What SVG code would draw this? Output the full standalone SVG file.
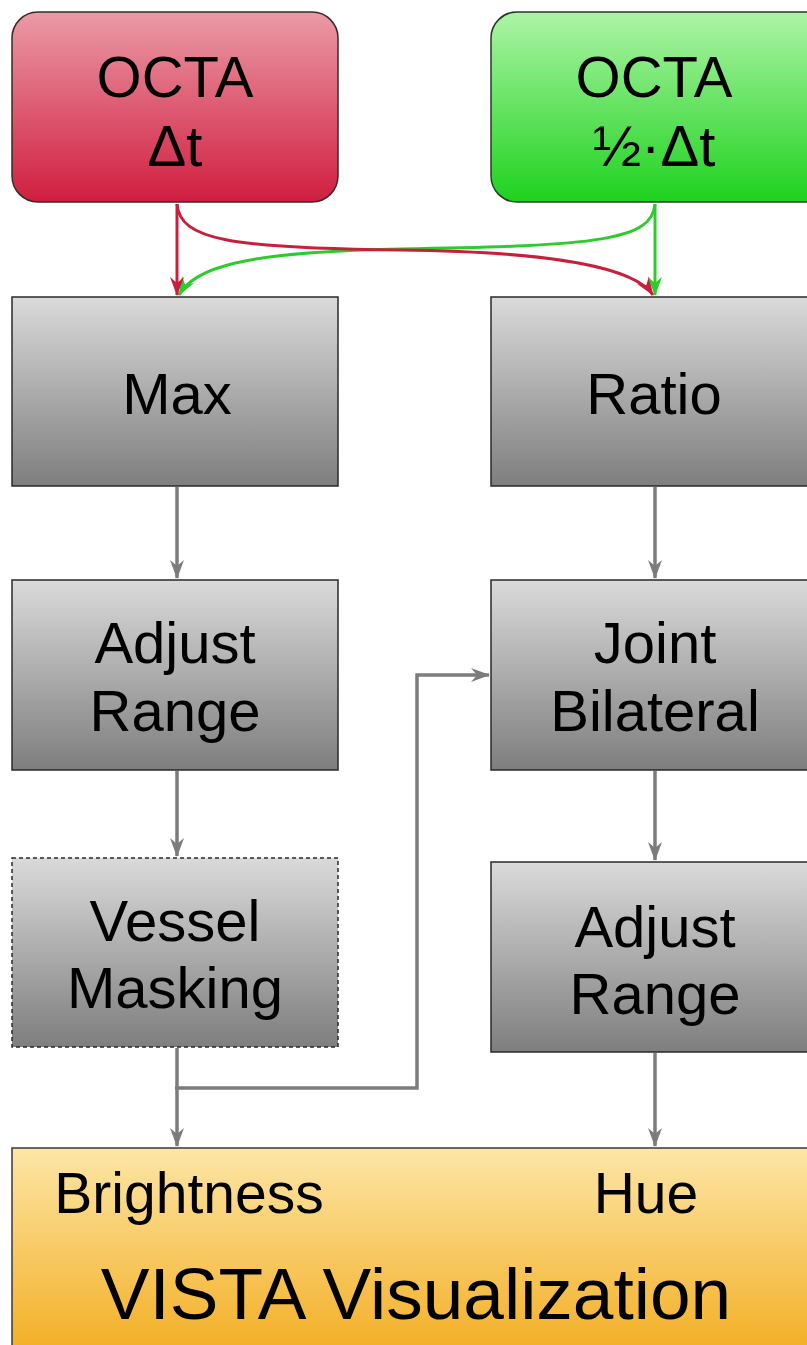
<svg xmlns="http://www.w3.org/2000/svg" width="807" height="1345" viewBox="0 0 807 1345">
<style>
text{font-family:"Liberation Sans",Arial,sans-serif;fill:#000;text-anchor:middle}
.lbl{font-size:58px}
.box{fill:url(#gGray);stroke:#2a2a2a;stroke-width:1.5}
.gc{fill:none;stroke:#7c7c7c;stroke-width:3.5}
</style>
<defs>
<linearGradient id="gGray" x1="0" y1="0" x2="0" y2="1"><stop offset="0" stop-color="#dadada"/><stop offset="1" stop-color="#7e7e7e"/></linearGradient>
<linearGradient id="gRed" x1="0" y1="0" x2="0" y2="1"><stop offset="0" stop-color="#eb9aa6"/><stop offset="1" stop-color="#d01e40"/></linearGradient>
<linearGradient id="gGreen" x1="0" y1="0" x2="0" y2="1"><stop offset="0" stop-color="#adf4a6"/><stop offset="1" stop-color="#1ed21e"/></linearGradient>
<linearGradient id="gOr" x1="0" y1="0" x2="0" y2="1"><stop offset="0" stop-color="#fde6a6"/><stop offset="1" stop-color="#f2aa1a"/></linearGradient>
<marker id="aG" markerWidth="20" markerHeight="16" refX="18" refY="8" orient="auto" markerUnits="userSpaceOnUse"><path d="M0,1 L19,8 L0,15 L6,8 Z" fill="#7c7c7c"/></marker>
<marker id="aR" markerWidth="20" markerHeight="16" refX="18" refY="8" orient="auto" markerUnits="userSpaceOnUse"><path d="M0,1 L19,8 L0,15 L6,8 Z" fill="#c8203c"/></marker>
<marker id="aGr" markerWidth="20" markerHeight="16" refX="18" refY="8" orient="auto" markerUnits="userSpaceOnUse"><path d="M0,1 L19,8 L0,15 L6,8 Z" fill="#2ccc2c"/></marker>
</defs>
<rect width="807" height="1345" fill="#fff"/>
<g id="connectors">
<path d="M655,204 C652,240 600,246 400,249 C240,252 195,268 179,295" fill="none" stroke="#2ccc2c" stroke-width="3" marker-end="url(#aGr)"/>
<path d="M177,204 C180,240 230,248 400,250 C560,252 635,268 653,295" fill="none" stroke="#c8203c" stroke-width="3" marker-end="url(#aR)"/>
<line x1="177" y1="204" x2="177" y2="295" stroke="#c8203c" stroke-width="3" marker-end="url(#aR)"/>
<line x1="655" y1="204" x2="655" y2="295" stroke="#2ccc2c" stroke-width="3" marker-end="url(#aGr)"/>
<line class="gc" x1="177" y1="487" x2="177" y2="578" marker-end="url(#aG)"/>
<line class="gc" x1="655" y1="487" x2="655" y2="578" marker-end="url(#aG)"/>
<line class="gc" x1="177" y1="771" x2="177" y2="856" marker-end="url(#aG)"/>
<line class="gc" x1="655" y1="771" x2="655" y2="860" marker-end="url(#aG)"/>
<line class="gc" x1="177" y1="1048" x2="177" y2="1146" marker-end="url(#aG)"/>
<line class="gc" x1="655" y1="1053" x2="655" y2="1146" marker-end="url(#aG)"/>
<path class="gc" d="M175,1088 L417,1088 L417,675 L489,675" marker-end="url(#aG)"/>
</g>
<g id="octa-dt">
<rect x="12" y="12" width="326" height="190" rx="26" fill="url(#gRed)" stroke="#3a2a2a" stroke-width="1.5"/>
<text class="lbl" x="175" y="97">OCTA</text>
<text class="lbl" x="175" y="166">Δt</text>
</g>
<g id="octa-half">
<rect x="491" y="12" width="340" height="190" rx="26" fill="url(#gGreen)" stroke="#2a3a2a" stroke-width="1.5"/>
<text class="lbl" x="654" y="97">OCTA</text>
<text class="lbl" x="654" y="166">½·Δt</text>
</g>
<g id="max"><rect class="box" x="12" y="297" width="326" height="189"/><text class="lbl" x="177" y="414">Max</text></g>
<g id="ratio"><rect class="box" x="491" y="297" width="340" height="189"/><text class="lbl" x="654" y="414">Ratio</text></g>
<g id="adjust1"><rect class="box" x="12" y="580" width="326" height="190"/><text class="lbl" x="175" y="663">Adjust</text><text class="lbl" x="175" y="731">Range</text></g>
<g id="joint"><rect class="box" x="491" y="580" width="340" height="190"/><text class="lbl" x="655" y="663">Joint</text><text class="lbl" x="655" y="731">Bilateral</text></g>
<g id="vessel"><rect class="box" x="12" y="858" width="326" height="189" stroke-dasharray="4,3"/><text class="lbl" x="175" y="941">Vessel</text><text class="lbl" x="175" y="1008">Masking</text></g>
<g id="adjust2"><rect class="box" x="491" y="862" width="340" height="190"/><text class="lbl" x="655" y="947">Adjust</text><text class="lbl" x="655" y="1014">Range</text></g>
<g id="vista">
<rect x="12" y="1148" width="820" height="220" fill="url(#gOr)" stroke="#3a3a3a" stroke-width="1.5"/>
<text x="189" y="1213" font-size="57">Brightness</text>
<text x="646" y="1213" font-size="57">Hue</text>
<text x="416" y="1319" font-size="73">VISTA Visualization</text>
</g>
</svg>
